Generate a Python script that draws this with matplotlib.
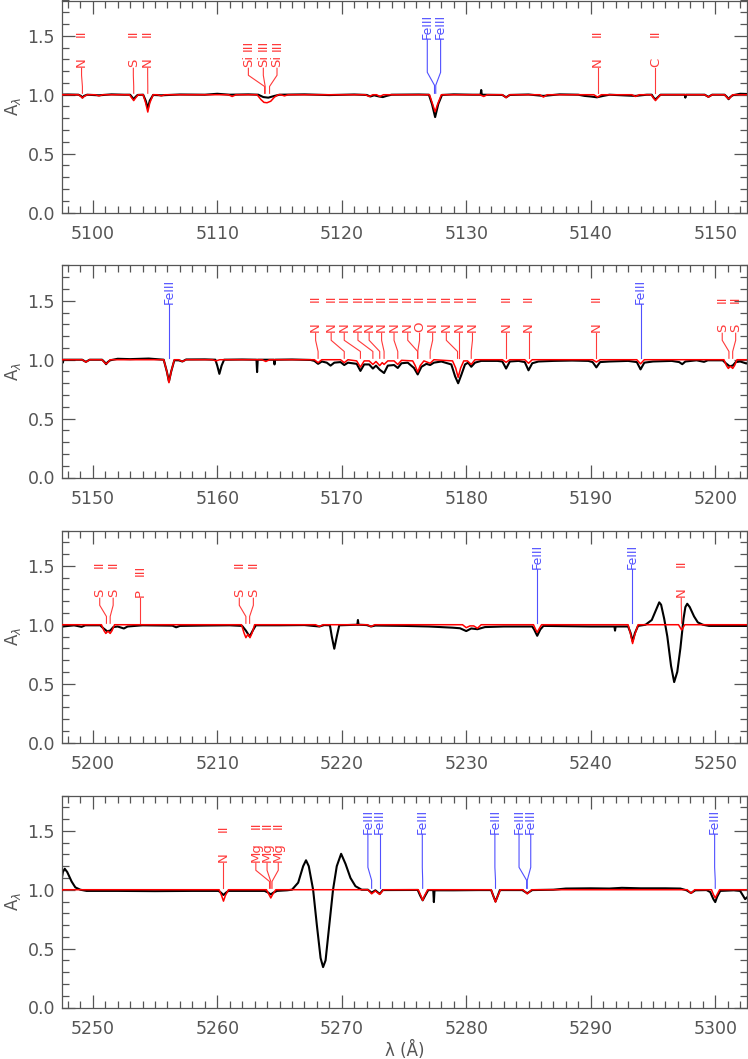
import matplotlib
matplotlib.use("Agg")
import matplotlib.pyplot as plt
from matplotlib.ticker import MultipleLocator

obs_wl = [5097.0, 5098.0, 5098.85, 5099.05, 5099.17, 5099.3, 5099.55, 5100.5, 5101.5, 5102.5,
          5103.0, 5103.15, 5103.29, 5103.42, 5103.6, 5104.05, 5104.25, 5104.42, 5104.58, 5104.85,
          5105.5, 5107.0, 5109.0, 5110.0, 5111.0, 5112.5, 5113.3, 5113.7, 5114.1, 5114.6, 5115.0,
          5117.0, 5119.0, 5121.0, 5122.0, 5122.3, 5122.6, 5123.0, 5123.3, 5123.6, 5124.0, 5126.2,
          5127.0, 5127.25, 5127.5, 5127.75, 5128.05, 5129.0, 5130.5, 5131.15, 5131.2, 5131.25,
          5132.9, 5133.2, 5133.5, 5135.0, 5136.2, 5137.5, 5139.0, 5139.5, 5140.0, 5140.5, 5141.0,
          5141.5, 5143.6, 5144.5, 5144.9, 5145.05, 5145.2, 5145.35, 5145.6, 5147.0, 5147.55, 5147.6,
          5147.65, 5149.15, 5149.45, 5149.75, 5150.75, 5150.95, 5151.07, 5151.2, 5151.4, 5152.0,
          5153.0, 5154.5,
          5155.7, 5155.95, 5156.12, 5156.3, 5156.55, 5156.9, 5157.2, 5157.5, 5159.0, 5159.85, 5160.0,
          5160.17, 5160.35, 5160.55, 5162.0, 5163.15, 5163.2, 5163.25, 5164.55, 5164.6, 5164.65,
          5166.0, 5167.5, 5167.8, 5168.1, 5168.4, 5168.8, 5169.1, 5169.4, 5169.9, 5170.2, 5170.5,
          5171.2, 5171.5, 5171.8, 5172.2, 5172.5, 5172.75, 5173.05, 5173.4, 5173.7, 5174.2, 5174.5,
          5174.8, 5175.3, 5175.8, 5176.1, 5176.4, 5176.8, 5177.1, 5177.4, 5178.0, 5178.8, 5179.1,
          5179.35, 5179.6, 5179.9, 5180.15, 5180.4, 5180.7, 5181.2, 5182.5, 5182.9, 5183.2, 5183.5,
          5184.2, 5184.7, 5185.0, 5185.3, 5185.8, 5187.0, 5188.5, 5189.8, 5190.15, 5190.45, 5190.75,
          5191.5, 5193.0, 5193.7, 5194.0, 5194.3, 5195.0, 5196.5, 5197.1, 5197.35, 5197.6, 5198.5,
          5199.1, 5199.4, 5200.6, 5200.85, 5201.15, 5201.4, 5201.65, 5202.0, 5202.5, 5202.8,
          5204.0, 5206.4, 5206.7, 5207.0, 5209.0, 5211.0, 5212.0, 5212.3, 5212.6, 5212.85, 5213.1,
          5215.0, 5217.0, 5218.2, 5218.6, 5219.05, 5219.2, 5219.4, 5219.6, 5219.8, 5221.25, 5221.3,
          5221.35, 5222.0, 5222.35, 5222.7, 5225.0, 5227.0, 5228.9, 5229.5, 5230.0, 5230.4, 5230.9,
          5231.5, 5233.0, 5235.3, 5235.45, 5235.7, 5235.95, 5236.2, 5238.0, 5240.0, 5241.9, 5241.95,
          5242.0, 5243.0, 5243.2, 5243.36, 5243.55, 5243.8, 5244.4, 5244.9, 5245.3, 5245.5, 5245.65,
          5245.9, 5246.15, 5246.45, 5246.7, 5246.95, 5247.2, 5247.45, 5247.6, 5247.75, 5247.95,
          5248.3, 5248.6, 5249.0,
          5249.5, 5252.0, 5255.0, 5258.0, 5260.1, 5260.3, 5260.5, 5260.7, 5260.9, 5263.8, 5264.1,
          5264.3, 5264.5, 5264.8, 5265.6, 5266.0, 5266.5, 5266.9, 5267.13, 5267.35, 5267.7, 5268.0,
          5268.3, 5268.5, 5268.7, 5269.0, 5269.3, 5269.6, 5269.95, 5270.3, 5270.7, 5271.1, 5271.6,
          5272.1, 5272.4, 5272.7, 5273.05, 5273.3, 5276.1, 5276.3, 5276.5, 5276.7, 5276.95, 5277.35,
          5277.4, 5277.45, 5279.0, 5281.0, 5282.0, 5282.2, 5282.35, 5282.5, 5282.7, 5284.5, 5284.9,
          5285.3, 5287.0, 5288.0, 5290.0, 5291.5, 5292.5, 5294.0, 5296.0, 5297.2, 5297.7, 5298.05,
          5298.4, 5299.3, 5299.6, 5299.85, 5300.0, 5300.15, 5300.4, 5301.5, 5302.0, 5302.4, 5302.7]
obs_fx = [1.0, 1.002, 1.0, 0.99, 0.976, 0.99, 1.0, 0.995, 1.003, 1.0,
          1.0, 0.98, 0.962, 0.98, 0.998, 1.0, 0.95, 0.885, 0.95, 0.998,
          0.995, 1.002, 1.0, 1.008, 1.0, 1.003, 1.0, 0.98, 0.975, 0.99, 1.0,
          1.003, 0.997, 1.002, 0.998, 0.985, 0.995, 0.985, 0.98, 0.99, 1.0, 1.002,
          1.0, 0.92, 0.81, 0.92, 0.998, 1.003, 1.0, 1.0, 1.04, 1.0,
          0.998, 0.978, 0.998, 1.002, 0.99, 1.003, 1.0, 0.99, 0.985, 0.978, 0.99,
          1.0, 0.99, 1.0, 1.0, 0.975, 0.96, 0.975, 1.0, 1.0, 1.0, 0.975,
          1.0, 1.0, 0.982, 1.0, 1.0, 0.98, 0.962, 0.98, 0.995, 1.008,
          1.005, 1.01,
          1.0, 0.9, 0.815, 0.9, 0.995, 0.995, 0.985, 1.002, 1.003, 1.0, 0.95,
          0.88, 0.95, 1.0, 1.002, 1.0, 0.895, 1.0, 1.0, 0.96, 1.0,
          1.002, 0.998, 0.99, 0.965, 0.985, 0.975, 0.95, 0.975, 0.98, 0.955, 0.975,
          0.965, 0.905, 0.96, 0.96, 0.925, 0.95, 0.915, 0.887, 0.95, 0.955, 0.93,
          0.97, 0.975, 0.93, 0.875, 0.94, 0.965, 0.955, 0.975, 0.985, 0.96, 0.86,
          0.80, 0.87, 0.96, 0.975, 0.94, 0.975, 0.99, 0.99, 0.985, 0.925, 0.985,
          0.99, 0.98, 0.91, 0.97, 0.985, 0.99, 0.993, 0.99, 0.98, 0.935, 0.98,
          0.985, 0.99, 0.98, 0.918, 0.975, 0.985, 0.99, 0.98, 0.962, 0.985, 0.995,
          0.982, 0.995, 0.995, 0.97, 0.945, 0.95, 0.98, 0.985, 0.968, 0.985,
          0.995, 0.992, 0.978, 0.99, 0.993, 0.995, 0.99, 0.95, 0.9, 0.95, 0.995,
          0.995, 0.997, 0.985, 0.997, 0.995, 0.9, 0.796, 0.9, 0.995, 1.0, 1.04,
          1.0, 0.997, 0.985, 0.993, 0.99, 0.985, 0.975, 0.97, 0.946, 0.968, 0.962,
          0.98, 0.985, 0.985, 0.96, 0.906, 0.96, 0.99, 0.988, 0.985, 0.985, 0.95,
          0.985, 0.985, 0.93, 0.86, 0.93, 0.99, 1.0, 1.04, 1.14, 1.19, 1.17,
          1.05, 0.9, 0.65, 0.513, 0.6, 0.8, 1.05, 1.15, 1.178, 1.15,
          1.07, 1.02, 1.0,
          0.99, 0.99, 0.988, 0.99, 0.99, 0.975, 0.955, 0.975, 0.99, 0.99, 0.975,
          0.96, 0.975, 0.99, 0.995, 1.0, 1.06, 1.2, 1.25, 1.2, 1.0, 0.7,
          0.42, 0.343, 0.4, 0.7, 1.0, 1.2, 1.305, 1.22, 1.1, 1.03, 1.0,
          1.0, 0.975, 0.995, 0.965, 0.997, 0.998, 0.95, 0.91, 0.95, 0.997, 0.997,
          0.895, 0.995, 0.995, 0.997, 0.997, 0.94, 0.9, 0.94, 0.997, 0.997, 0.97,
          0.997, 1.0, 1.01, 1.012, 1.01, 1.016, 1.012, 1.012, 1.01, 0.995, 0.972,
          0.995, 0.997, 0.98, 0.92, 0.895, 0.94, 0.99, 0.995, 0.99, 0.92, 0.95]

# model spectrum (red)
mod_wl = [5097.0, 5098.85, 5099.05, 5099.17, 5099.3, 5099.55, 5100.2, 5100.5, 5100.8,
          5102.95, 5103.15, 5103.29, 5103.42, 5103.65, 5104.05, 5104.25, 5104.42, 5104.58, 5104.85,
          5105.2, 5105.5, 5105.8, 5110.9, 5111.2, 5111.5, 5113.2, 5113.5, 5113.75, 5114.0, 5114.3,
          5114.6, 5114.9, 5115.1, 5115.4, 5115.7, 5121.9, 5122.2, 5122.5, 5122.8, 5123.06, 5123.35,
          5127.05, 5127.3, 5127.5, 5127.7, 5128.0, 5131.1, 5131.4, 5131.7, 5132.9, 5133.2, 5133.5,
          5135.9, 5136.2, 5136.5, 5140.25, 5140.55, 5140.85, 5143.3, 5143.6, 5143.9, 5144.85,
          5145.05, 5145.2, 5145.35, 5145.6, 5149.15, 5149.45, 5149.75, 5150.75, 5150.95, 5151.07,
          5151.2, 5151.4,
          5155.7, 5155.95, 5156.12, 5156.3, 5156.55, 5156.9, 5157.2, 5157.5, 5159.6, 5159.9, 5160.2,
          5163.6, 5163.9, 5164.2, 5167.8, 5168.1, 5168.4, 5169.9, 5170.2, 5170.5, 5171.2, 5171.5,
          5171.8, 5172.2, 5172.5, 5172.75, 5173.05, 5173.25, 5173.4, 5173.7, 5174.2, 5174.5, 5174.8,
          5175.7, 5175.9, 5176.1, 5176.3, 5176.6, 5177.1, 5177.4, 5178.9, 5179.15, 5179.35, 5179.55,
          5179.8, 5180.1, 5180.4, 5180.7, 5182.9, 5183.2, 5183.5, 5184.7, 5185.0, 5185.3, 5190.15,
          5190.45, 5190.75, 5193.7, 5194.0, 5194.3, 5200.7, 5200.9, 5201.05, 5201.22, 5201.4,
          5201.55, 5201.75,
          5211.95, 5212.15, 5212.3, 5212.47, 5212.63, 5212.8, 5213.0, 5217.9, 5218.2, 5218.5,
          5222.05, 5222.35, 5222.65, 5229.7, 5230.0, 5230.3, 5230.6, 5230.9, 5231.2, 5235.4,
          5235.55, 5235.7, 5235.85, 5236.05, 5243.0, 5243.2, 5243.36, 5243.55, 5243.8, 5247.05,
          5247.3, 5247.55,
          5260.15, 5260.35, 5260.5, 5260.65, 5260.9, 5263.95, 5264.15, 5264.3, 5264.45, 5264.7,
          5272.1, 5272.4, 5272.7, 5273.05, 5273.35, 5276.15, 5276.35, 5276.5, 5276.65, 5276.9,
          5282.0, 5282.2, 5282.35, 5282.5, 5282.75, 5284.55, 5284.9, 5285.25, 5297.75, 5298.05,
          5298.35, 5299.7, 5299.85, 5300.0, 5300.15, 5300.35, 5303.0]
mod_fx = [1.0, 1.0, 0.985, 0.972, 0.985, 1.0, 1.0, 0.99, 1.0,
          1.0, 0.97, 0.95, 0.97, 1.0, 1.0, 0.93, 0.853, 0.93, 1.0,
          1.0, 0.99, 1.0, 1.0, 0.985, 1.0, 1.0, 0.96, 0.935, 0.932, 0.945,
          0.98, 1.0, 1.0, 0.99, 1.0, 1.0, 0.985, 1.0, 1.0, 0.985, 1.0,
          1.0, 0.92, 0.855, 0.92, 1.0, 1.0, 0.985, 1.0, 1.0, 0.975, 1.0,
          1.0, 0.98, 1.0, 1.0, 0.98, 1.0, 1.0, 0.985, 1.0, 1.0,
          0.97, 0.95, 0.97, 1.0, 1.0, 0.98, 1.0, 1.0, 0.975, 0.965,
          0.975, 1.0,
          1.0, 0.9, 0.805, 0.9, 1.0, 1.0, 0.985, 1.0, 1.0, 0.99, 1.0,
          1.0, 0.985, 1.0, 1.0, 0.975, 1.0, 1.0, 0.975, 1.0, 0.99, 0.937,
          0.99, 0.99, 0.96, 0.985, 0.95, 0.975, 0.96, 0.99, 0.99, 0.96, 0.995,
          0.99, 0.95, 0.895, 0.95, 0.99, 0.97, 1.0, 0.99, 0.93, 0.85, 0.93,
          0.99, 0.99, 0.96, 1.0, 1.0, 0.978, 1.0, 1.0, 0.97, 1.0, 1.0,
          0.98, 1.0, 1.0, 0.965, 1.0, 1.0, 0.95, 0.926, 0.945, 0.926,
          0.95, 1.0,
          1.0, 0.93, 0.89, 0.92, 0.89, 0.93, 1.0, 1.0, 0.985, 1.0,
          1.0, 0.985, 1.0, 1.0, 0.975, 0.99, 0.99, 0.97, 1.0, 1.0,
          0.965, 0.935, 0.965, 1.0, 1.0, 0.92, 0.84, 0.92, 1.0, 1.0,
          0.955, 1.0,
          1.0, 0.95, 0.903, 0.95, 1.0, 1.0, 0.96, 0.93, 0.96, 1.0,
          1.0, 0.965, 0.99, 0.96, 1.0, 1.0, 0.95, 0.909, 0.95, 1.0,
          1.0, 0.94, 0.895, 0.94, 1.0, 1.0, 0.965, 1.0, 1.0, 0.97,
          1.0, 1.0, 0.96, 0.93, 0.96, 1.0, 1.0]

# red line identifications: label position, line position, element, ion, height of ion text
red_lab_x = [5099.1, 5103.26, 5104.41, 5112.5, 5113.7, 5114.8, 5140.55, 5145.2,
             5167.9, 5169.15, 5170.2, 5171.3, 5172.2, 5173.2, 5174.2, 5175.3, 5176.25, 5177.3,
             5178.4, 5179.45, 5180.5, 5183.2, 5185.0, 5190.45, 5200.56, 5201.64,
             5203.8, 5211.77, 5212.9, 5247.27, 5260.5, 5263.1, 5264.0, 5264.9]
red_tip_x = [5099.17, 5103.29, 5104.42, 5113.8, 5113.85, 5114.2, 5140.55, 5145.2,
             5168.1, 5170.2, 5171.5, 5172.5, 5173.05, 5173.4, 5174.5, 5176.1, 5176.1, 5177.1,
             5179.3, 5179.45, 5180.4, 5183.2, 5185.0, 5190.45, 5201.1, 5201.4,
             5203.8, 5212.3, 5212.6, 5247.3, 5260.5, 5264.2, 5264.3, 5264.4]
red_elem = ['N', 'S', 'N', 'Si', 'Si', 'Si', 'N', 'C',
            'N', 'N', 'N', 'N', 'N', 'N', 'N', 'N', 'O', 'N',
            'N', 'N', 'N', 'N', 'N', 'N', 'S', 'S',
            'P', 'S', 'S', 'N', 'N', 'Mg', 'Mg', 'Mg']
red_ion = ['II', 'II', 'II', 'III', 'III', 'III', 'II', 'II',
           'II', 'II', 'II', 'II', 'II', 'II', 'II', 'II', 'II', 'II',
           'II', 'II', 'II', 'II', 'II', 'II', 'II', 'II',
           'III', 'II', 'II', 'II', 'II', 'II', 'II', 'II']
red_ion_y = [1.525, 1.525, 1.525, 1.415, 1.415, 1.415, 1.52, 1.52,
             1.52, 1.52, 1.52, 1.52, 1.52, 1.52, 1.52, 1.52, 1.52, 1.52,
             1.52, 1.52, 1.52, 1.52, 1.52, 1.52, 1.51, 1.51,
             1.465, 1.51, 1.51, 1.52, 1.52, 1.55, 1.55, 1.55]

# blue Fe III identifications
fe_lab_x = [5126.87, 5127.94, 5156.12, 5194.0, 5235.7, 5243.34,
            5272.1, 5273.05, 5276.47, 5282.3, 5284.24, 5285.18, 5299.95]
fe_tip_x = [5127.45, 5127.55, 5156.12, 5194.0, 5235.7, 5243.34,
            5272.4, 5273.05, 5276.5, 5282.35, 5284.85, 5284.9, 5300.0]

xranges = [(5097.53, 5152.55), (5147.53, 5202.55), (5197.53, 5252.55), (5247.53, 5302.55)]

RED_TXT = '#ff3a3a'
BLUE = '#5050ff'
GREY = '#555555'

plt.rcParams['font.family'] = ['DejaVu Sans']
fig = plt.figure(figsize=(7.48, 10.59), dpi=100)

W, H = 748.0, 1059.0
for i, (x0, x1) in enumerate(xranges):
    top = 0.5 + 265 * i
    ax = fig.add_axes([62 / W, 1 - (top + 212) / H, 685 / W, 212 / H])
    ax.plot(obs_wl, obs_fx, color='black', lw=1.5, zorder=2)
    ax.plot(mod_wl, mod_fx, color='red', lw=1.1, zorder=3)

    for lx, tx, el, ion, iy in zip(red_lab_x, red_tip_x, red_elem, red_ion, red_ion_y):
        if not (x0 < tx < x1):
            continue
        ax.plot([lx, lx, tx, tx], [1.225, 1.165, 1.07, 1.012], color=RED_TXT, lw=0.8, zorder=4)
        ax.text(lx, 1.232, el, rotation=90, ha='center', va='bottom', color=RED_TXT, fontsize=9.5)
        ax.text(lx, iy, ion, rotation=90, ha='center', va='center', color=RED_TXT, fontsize=9.5)

    for lx, tx in zip(fe_lab_x, fe_tip_x):
        if not (x0 < tx < x1):
            continue
        ax.plot([lx, lx, tx, tx], [1.47, 1.19, 1.08, 1.012], color=BLUE, lw=0.8, zorder=4)
        ax.text(lx, 1.475, 'FeIII', rotation=90, ha='center', va='bottom', color=BLUE, fontsize=9)

    ax.set_xlim(x0, x1)
    ax.set_ylim(0.0, 1.8)
    ax.xaxis.set_major_locator(MultipleLocator(10))
    ax.xaxis.set_minor_locator(MultipleLocator(1))
    ax.yaxis.set_major_locator(MultipleLocator(0.5))
    ax.yaxis.set_minor_locator(MultipleLocator(0.1))
    ax.tick_params(which='both', direction='in', top=True, right=True, color=GREY, width=0.9)
    ax.tick_params(which='major', length=9.5, labelsize=12.5, labelcolor=GREY)
    ax.tick_params(which='minor', length=5)
    ax.tick_params(axis='x', which='major', pad=9)
    ax.tick_params(axis='y', which='major', pad=5)
    ax.yaxis.set_major_formatter(plt.FormatStrFormatter('%.1f'))
    for sp in ax.spines.values():
        sp.set_color(GREY)
        sp.set_linewidth(0.9)
    ax.set_ylabel(r'A$_\lambda$', color=GREY, fontsize=12, labelpad=3)
    if i == 3:
        ax.set_xlabel('λ (Å)', color=GREY, fontsize=12, labelpad=2)

fig.savefig('out.png', dpi=100)
